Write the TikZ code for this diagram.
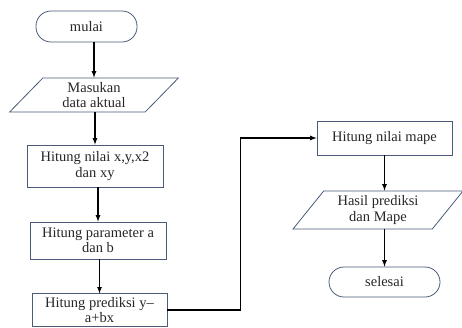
\documentclass[tikz,border=0pt]{standalone}
\usepackage{fontspec}
\setmainfont{Liberation Serif}
\usetikzlibrary{shapes.geometric}
\definecolor{boxline}{HTML}{4A5A78}
\tikzset{
	>=latex,
	flowtext/.style={font=\fontsize{14.5}{15.5}\selectfont, align=center, text=black!85},
	terminal/.style={flowtext, draw=boxline, line width=0.8pt, rounded corners=15pt},
	process/.style={flowtext, draw=boxline, line width=0.8pt, rectangle},
	inout/.style={flowtext, draw=boxline, line width=0.8pt, trapezium, trapezium stretches=true,
		trapezium left angle=55, trapezium right angle=125},
	flow/.style={->, line width=1.2pt, black}
}
\begin{document}
\begin{tikzpicture}[x=1pt, y=-1pt]
	\useasboundingbox (0, 0) rectangle (462, 327);
	% left column
	\node[terminal, minimum width=101pt, minimum height=31pt] (mulai) at (86.5, 26.5) {mulai};
	\node[inout, minimum width=169pt, minimum height=34pt] (masukan) at (94, 95) {Masukan\\data aktual};
	\node[process, minimum width=136pt, minimum height=42pt] (nilai) at (95, 166) {Hitung nilai x,y,x2\\dan xy};
	\node[process, minimum width=136pt, minimum height=37pt] (param) at (98, 240.5) {Hitung parameter a\\dan b};
	\node[process, minimum width=135pt, minimum height=32pt] (prediksi) at (99.5, 310) {Hitung prediksi y–\\a+bx};
	% right column
	\node[process, minimum width=135pt, minimum height=34pt] (mape) at (384.5, 138) {Hitung nilai mape};
	\node[inout, minimum width=170pt, minimum height=38pt] (hasil) at (378, 210) {Hasil prediksi\\dan Mape};
	\node[terminal, minimum width=111pt, minimum height=30pt] (selesai) at (384.5, 282) {selesai};
	% arrows
	\draw[flow] (masukan.north |- mulai.south) -- (masukan.north);
	\draw[flow] (nilai.north |- masukan.south) -- (nilai.north);
	\draw[flow] (param.north |- nilai.south) -- (param.north);
	\draw[flow] (prediksi.north |- param.south) -- (prediksi.north);
	\draw[flow] (prediksi.east) -| ([xshift=-76pt]mape.west) -- (mape.west);
	\draw[flow] (mape.south) -- (mape.south |- hasil.north);
	\draw[flow] (selesai.north |- hasil.south) -- (selesai.north);
\end{tikzpicture}
\end{document}
